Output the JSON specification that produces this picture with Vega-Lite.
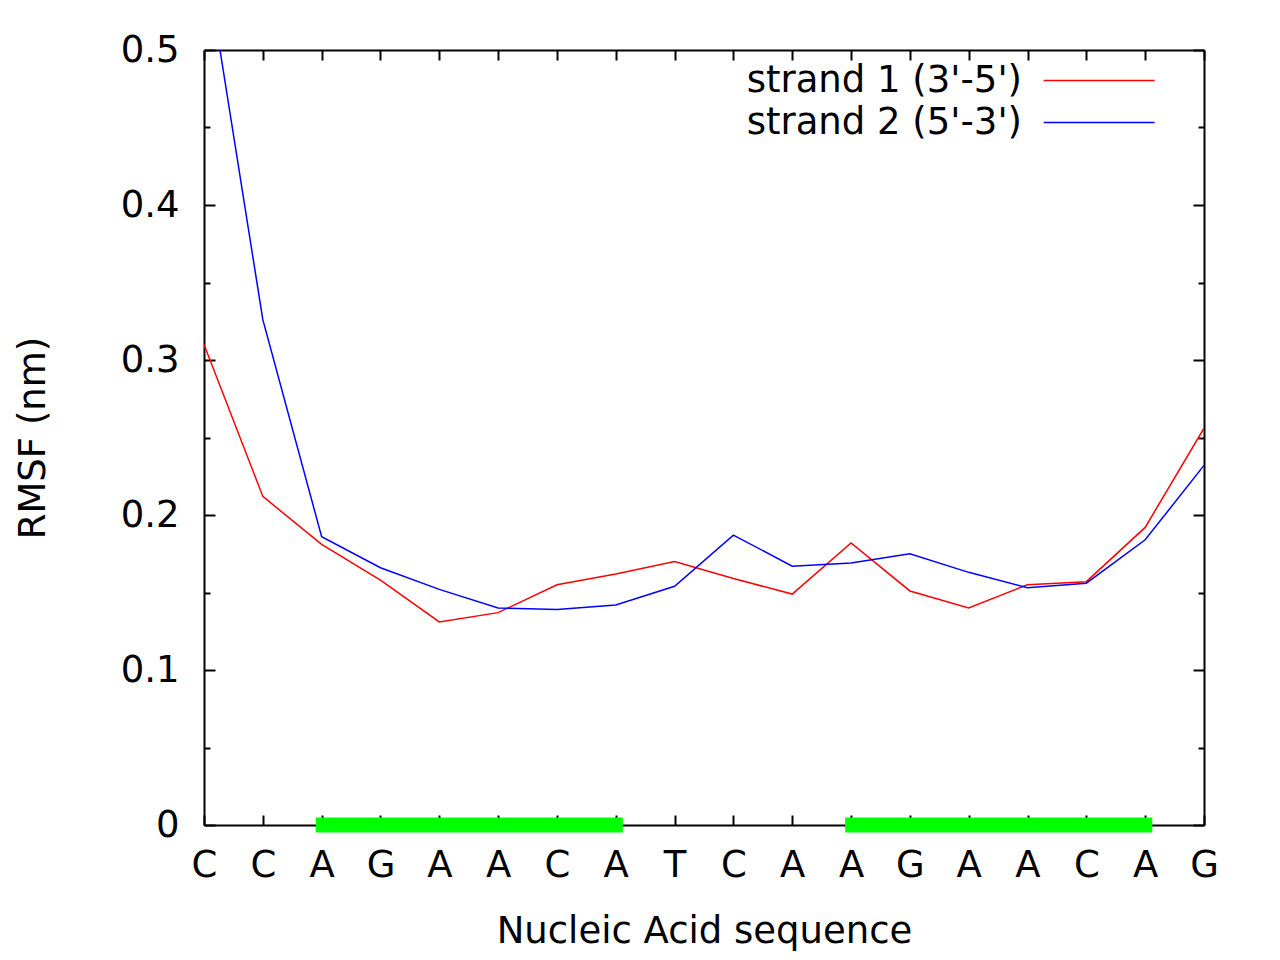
{
  "$schema": "https://vega.github.io/schema/vega-lite/v6.json",
  "width": 1000,
  "height": 775,
  "autosize": {"type": "none"},
  "padding": {"left": 204, "top": 50, "right": 76, "bottom": 135},
  "background": "#ffffff",
  "config": {
    "font": "DejaVu Sans",
    "view": {"stroke": null},
    "axis": {"grid": false, "domainColor": "#000000", "domainWidth": 2, "tickColor": "#000000", "tickWidth": 2, "labelColor": "#000000", "labelFont": "DejaVu Sans", "labelFontSize": 37, "titleFont": "DejaVu Sans", "titleFontSize": 37, "titleFontWeight": "normal", "titleColor": "#000000", "zindex": 1}
  },
  "datasets": {
    "rmsf": [
      {"i": 0, "base": "C", "strand": "strand 1 (3'-5')", "rmsf": 0.310},
      {"i": 1, "base": "C", "strand": "strand 1 (3'-5')", "rmsf": 0.212},
      {"i": 2, "base": "A", "strand": "strand 1 (3'-5')", "rmsf": 0.181},
      {"i": 3, "base": "G", "strand": "strand 1 (3'-5')", "rmsf": 0.158},
      {"i": 4, "base": "A", "strand": "strand 1 (3'-5')", "rmsf": 0.131},
      {"i": 5, "base": "A", "strand": "strand 1 (3'-5')", "rmsf": 0.137},
      {"i": 6, "base": "C", "strand": "strand 1 (3'-5')", "rmsf": 0.155},
      {"i": 7, "base": "A", "strand": "strand 1 (3'-5')", "rmsf": 0.162},
      {"i": 8, "base": "T", "strand": "strand 1 (3'-5')", "rmsf": 0.170},
      {"i": 9, "base": "C", "strand": "strand 1 (3'-5')", "rmsf": 0.159},
      {"i": 10, "base": "A", "strand": "strand 1 (3'-5')", "rmsf": 0.149},
      {"i": 11, "base": "A", "strand": "strand 1 (3'-5')", "rmsf": 0.182},
      {"i": 12, "base": "G", "strand": "strand 1 (3'-5')", "rmsf": 0.151},
      {"i": 13, "base": "A", "strand": "strand 1 (3'-5')", "rmsf": 0.140},
      {"i": 14, "base": "A", "strand": "strand 1 (3'-5')", "rmsf": 0.155},
      {"i": 15, "base": "C", "strand": "strand 1 (3'-5')", "rmsf": 0.157},
      {"i": 16, "base": "A", "strand": "strand 1 (3'-5')", "rmsf": 0.192},
      {"i": 17, "base": "G", "strand": "strand 1 (3'-5')", "rmsf": 0.256},
      {"i": 0, "base": "C", "strand": "strand 2 (5'-3')", "rmsf": 0.565},
      {"i": 1, "base": "C", "strand": "strand 2 (5'-3')", "rmsf": 0.326},
      {"i": 2, "base": "A", "strand": "strand 2 (5'-3')", "rmsf": 0.186},
      {"i": 3, "base": "G", "strand": "strand 2 (5'-3')", "rmsf": 0.166},
      {"i": 4, "base": "A", "strand": "strand 2 (5'-3')", "rmsf": 0.152},
      {"i": 5, "base": "A", "strand": "strand 2 (5'-3')", "rmsf": 0.140},
      {"i": 6, "base": "C", "strand": "strand 2 (5'-3')", "rmsf": 0.139},
      {"i": 7, "base": "A", "strand": "strand 2 (5'-3')", "rmsf": 0.142},
      {"i": 8, "base": "T", "strand": "strand 2 (5'-3')", "rmsf": 0.154},
      {"i": 9, "base": "C", "strand": "strand 2 (5'-3')", "rmsf": 0.187},
      {"i": 10, "base": "A", "strand": "strand 2 (5'-3')", "rmsf": 0.167},
      {"i": 11, "base": "A", "strand": "strand 2 (5'-3')", "rmsf": 0.169},
      {"i": 12, "base": "G", "strand": "strand 2 (5'-3')", "rmsf": 0.175},
      {"i": 13, "base": "A", "strand": "strand 2 (5'-3')", "rmsf": 0.163},
      {"i": 14, "base": "A", "strand": "strand 2 (5'-3')", "rmsf": 0.153},
      {"i": 15, "base": "C", "strand": "strand 2 (5'-3')", "rmsf": 0.156},
      {"i": 16, "base": "A", "strand": "strand 2 (5'-3')", "rmsf": 0.184},
      {"i": 17, "base": "G", "strand": "strand 2 (5'-3')", "rmsf": 0.232}
    ],
    "regions": [
      {"start": 1.9, "end": 7.12},
      {"start": 10.9, "end": 16.12}
    ]
  },
  "layer": [
    {
      "data": {"name": "rmsf"},
      "mark": {"type": "line", "clip": true, "strokeWidth": 1.5},
      "encoding": {
        "x": {
          "field": "i", "type": "quantitative",
          "scale": {"domain": [0, 17], "nice": false, "zero": false},
          "axis": {
            "orient": "bottom", "title": "Nucleic Acid sequence",
            "values": [0,1,2,3,4,5,6,7,8,9,10,11,12,13,14,15,16,17],
            "labelExpr": "['C','C','A','G','A','A','C','A','T','C','A','A','G','A','A','C','A','G'][round(datum.value)]",
            "tickSize": -10, "labelPadding": 32, "titlePadding": 30, "labelFlush": false
          }
        },
        "y": {
          "field": "rmsf", "type": "quantitative",
          "scale": {"domain": [0, 0.5], "nice": false},
          "axis": {
            "orient": "left", "title": "RMSF (nm)",
            "values": [0,0.05,0.1,0.15,0.2,0.25,0.3,0.35,0.4,0.45,0.5],
            "labelExpr": "round(datum.value*100) % 10 == 0 ? format(datum.value, '~g') : ''",
            "tickSize": {"condition": {"test": "round(datum.value*100) % 10 == 0", "value": -11}, "value": -6},
            "labelPadding": 36, "titlePadding": 68, "labelFlush": false, "labelBaseline": "middle"
          }
        },
        "color": {
          "field": "strand", "type": "nominal",
          "scale": {"domain": ["strand 1 (3'-5')", "strand 2 (5'-3')"], "range": ["#ff0000", "#0000ff"]},
          "legend": {
            "title": null, "orient": "none", "legendX": 835, "legendY": 12,
            "symbolType": "M-1,0H7", "symbolSize": 770, "symbolStrokeWidth": 1.5,
            "labelFontSize": 37, "labelFont": "DejaVu Sans", "labelColor": "#000000",
            "labelAlign": "right", "labelOffset": -54, "labelLimit": 400, "rowPadding": 4
          }
        }
      }
    },
    {
      "data": {"name": "regions"},
      "mark": {"type": "rule", "color": "#00ff00", "strokeWidth": 15, "strokeCap": "butt"},
      "encoding": {
        "x": {
          "field": "start", "type": "quantitative",
          "axis": {
            "orient": "top", "title": null, "labels": false,
            "values": [0,1,2,3,4,5,6,7,8,9,10,11,12,13,14,15,16,17],
            "tickSize": -10
          }
        },
        "x2": {"field": "end"},
        "y": {
          "datum": 0, "type": "quantitative",
          "axis": {
            "orient": "right", "title": null, "labels": false,
            "values": [0,0.05,0.1,0.15,0.2,0.25,0.3,0.35,0.4,0.45,0.5],
            "tickSize": {"condition": {"test": "round(datum.value*100) % 10 == 0", "value": -11}, "value": -6}
          }
        }
      }
    }
  ],
  "resolve": {"axis": {"x": "independent", "y": "independent"}}
}
